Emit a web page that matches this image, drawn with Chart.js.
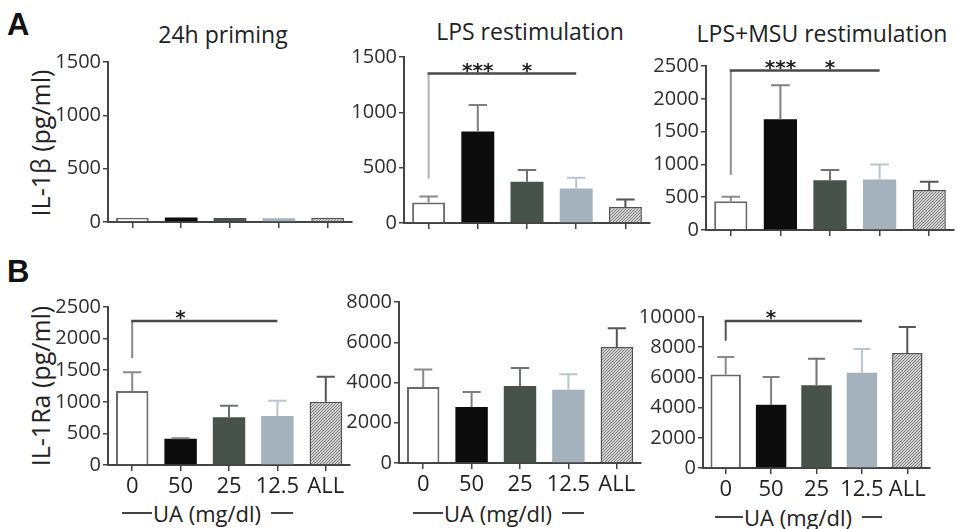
<!DOCTYPE html>
<html>
<head>
<meta charset="utf-8">
<script src="https://cdn.jsdelivr.net/npm/chart.js@4.4.0/dist/chart.umd.min.js"></script>
<style>
  body { margin: 0; background: #fff; }
  #fig { position: relative; width: 957px; height: 529px; overflow: hidden;
         font-family: 'Open Sans', sans-serif; color: #222; }
  #fig canvas { position: absolute; }
  .txt { position: absolute; white-space: nowrap; line-height: 1; }
  .letter { font-family: 'Liberation Sans', Arial, sans-serif; font-weight: bold; font-size: 31px; color: #111; }
  .title { font-size: 23px; transform: translate(-50%, -50%); }
  .ytitle { font-size: 25px; transform: translate(-50%, -50%) rotate(-90deg); }
  .ua { display: flex; align-items: center; font-size: 22px; transform: translateY(-50%); }
  .ua .dash { display: inline-block; height: 2px; background: #444; }
</style>
</head>
<body>
<div id="fig">
  <div class="txt letter" style="left:7px; top:9px;">A</div>
  <div class="txt letter" style="left:7px; top:256px;">B</div>

  <div class="txt title" style="left:223px; top:34px;">24h priming</div>
  <div class="txt title" style="left:530px; top:31px;">LPS restimulation</div>
  <div class="txt title" style="left:822px; top:33px;">LPS+MSU restimulation</div>

  <div class="txt ytitle" style="left:40px; top:143px;">IL-1β (pg/ml)</div>
  <div class="txt ytitle" style="left:40px; top:386px;">IL-1Ra (pg/ml)</div>

  <div class="txt ua" style="left:122px; top:513px;"><span class="dash" style="width:30px"></span><span style="margin-left:1px">UA (mg/dl)</span><span class="dash" style="width:22px; margin-left:10px"></span></div>
  <div class="txt ua" style="left:413px; top:513px;"><span class="dash" style="width:30px"></span><span style="margin-left:1px">UA (mg/dl)</span><span class="dash" style="width:22px; margin-left:10px"></span></div>
  <div class="txt ua" style="left:715px; top:517px;"><span class="dash" style="width:28px"></span><span style="margin-left:1px">UA (mg/dl)</span><span class="dash" style="width:20px; margin-left:10px"></span></div>
</div>

<script>
// Uric acid pre-treatment groups (x-axis tick labels)
const categories = ['0', '50', '25', '12.5', 'ALL'];

// IL-1β (pg/ml): mean and SEM per group
const primingMean   = [40, 42, 38, 36, 40];
const primingSem    = [0, 0, 0, 0, 0];
const lpsMean       = [185, 826, 372, 311, 145];
const lpsSem        = [55, 241, 106, 97, 67];
const lpsMsuMean    = [440, 1690, 760, 770, 610];
const lpsMsuSem     = [67, 516, 153, 229, 125];

// IL-1Ra (pg/ml): mean and SEM per group
const raPrimingMean = [1170, 415, 755, 775, 1000];
const raPrimingSem  = [297, 8, 183, 242, 397];
const raLpsMean     = [3780, 2780, 3830, 3640, 5760];
const raLpsSem      = [870, 750, 890, 770, 930];
const raMsuMean     = [6200, 4190, 5480, 6310, 7620];
const raMsuSem      = [1150, 1840, 1760, 1570, 1720];

// y-axis ranges [max, step]
const axisLpsIl1b    = [1500, 500];
const axisMsuIl1b    = [2500, 500];
const axisPrimingRa  = [2500, 500];
const axisLpsRa      = [8000, 2000];
const axisMsuRa      = [10000, 2000];

// significance brackets: [first group, last group, bracket level, drop level]
const lpsBracket     = [0, 3, 1350, 400];
const lpsStars       = ['', '***', '*', '', ''];
const msuBracket     = [0, 3, 2430, 840];
const msuStars       = ['', '***', '*', '', ''];
const raPrimBracket  = [0, 3, 2280, 1690];
const raPrimStars    = ['', '*', '', '', ''];
const raMsuBracket   = [0, 3, 9730, 8430];
const raMsuStars     = ['', '*', '', '', ''];

Chart.defaults.font.family = "'Open Sans', sans-serif";

// fine diagonal hatch used for the ALL group
function hatchPattern() {
  const c = document.createElement('canvas');
  c.width = 3; c.height = 3;
  const g = c.getContext('2d');
  g.fillStyle = '#d2d2d2';
  g.fillRect(0, 0, 3, 3);
  g.strokeStyle = '#707070';
  g.lineWidth = 0.9;
  g.beginPath();
  g.moveTo(0, 3); g.lineTo(3, 0);
  g.moveTo(-1, 1); g.lineTo(1, -1);
  g.moveTo(2, 4); g.lineTo(4, 2);
  g.stroke();
  return g.createPattern(c, 'repeat');
}
const hatch = hatchPattern();

const barFill   = ['#ffffff', '#0b0c0b', '#46524a', '#a3b2bd', hatch];
const barBorder = ['#6a6a6a', '#0b0c0b', '#46524a', '#a3b2bd', '#505050'];
const barBorderW = [2, 0, 0, 0, 1.5];
const errColor  = ['#8a8a8a', '#808080', '#6e756f', '#b9c6cf', '#555555'];

// upper SEM whiskers
const errorBars = {
  id: 'errorBars',
  afterDatasetsDraw(chart, args, opts) {
    if (!opts.sem) return;
    const meta = chart.getDatasetMeta(0);
    const vals = chart.data.datasets[0].data;
    const ys = chart.scales.y;
    const ctx = chart.ctx;
    ctx.save();
    ctx.lineWidth = 2;
    meta.data.forEach((bar, i) => {
      const e = opts.sem[i];
      if (!e) return;
      const base = ys.getPixelForValue(vals[i]);
      const top = ys.getPixelForValue(vals[i] + e);
      const half = bar.width * 0.28;
      ctx.strokeStyle = errColor[i];
      ctx.beginPath();
      ctx.moveTo(bar.x, base);
      ctx.lineTo(bar.x, top);
      ctx.moveTo(bar.x - half, top);
      ctx.lineTo(bar.x + half, top);
      ctx.stroke();
    });
    ctx.restore();
  }
};

// comparison bracket with significance stars
const bracket = {
  id: 'bracket',
  afterDatasetsDraw(chart, args, opts) {
    if (!opts.span) return;
    const [from, to, level, drop] = opts.span;
    const meta = chart.getDatasetMeta(0);
    const ys = chart.scales.y;
    const ctx = chart.ctx;
    const x0 = meta.data[from].x, x1 = meta.data[to].x;
    const yl = ys.getPixelForValue(level);
    const yd = ys.getPixelForValue(drop);
    ctx.save();
    ctx.strokeStyle = opts.dropColor;
    ctx.lineWidth = 2;
    ctx.beginPath();
    ctx.moveTo(x0, yl);
    ctx.lineTo(x0, yd);
    ctx.stroke();
    ctx.strokeStyle = '#4a4a4a';
    ctx.lineWidth = 2.5;
    ctx.beginPath();
    ctx.moveTo(x0 - 1, yl);
    ctx.lineTo(x1, yl);
    ctx.stroke();
    ctx.fillStyle = '#222';
    ctx.font = "bold 20px 'DejaVu Sans'";
    ctx.textAlign = 'center';
    ctx.textBaseline = 'alphabetic';
    opts.stars.forEach((s, i) => {
      if (s) ctx.fillText(s, meta.data[i].x, yl + 3);
    });
    ctx.restore();
  }
};

// area: [left, right, top, bottom] of the plot frame; box: [left, top, width, height] of the canvas
function panel(box, area, mean, sem, range, showX, sig) {
  const cv = document.createElement('canvas');
  cv.width = box[2]; cv.height = box[3];
  cv.style.left = box[0] + 'px'; cv.style.top = box[1] + 'px';
  document.getElementById('fig').appendChild(cv);
  const yW = area[0] - box[0];
  const padR = box[0] + box[2] - area[1];
  const padT = area[2] - box[1];
  const xH = box[1] + box[3] - area[3];
  new Chart(cv, {
    type: 'bar',
    data: {
      labels: categories,
      datasets: [{
        data: mean,
        backgroundColor: barFill,
        borderColor: barBorder,
        borderWidth: barBorderW,
        borderSkipped: 'start',
        barPercentage: 0.67,
        categoryPercentage: 1
      }]
    },
    options: {
      responsive: false,
      animation: false,
      devicePixelRatio: 1,
      layout: { padding: { left: 0, right: padR, top: padT, bottom: 0 } },
      plugins: {
        legend: { display: false },
        tooltip: { enabled: false },
        errorBars: { sem: sem },
        bracket: sig ? { span: sig.span, stars: sig.stars, dropColor: sig.dropColor } : { span: null }
      },
      scales: {
        x: {
          offset: true,
          grid: { drawOnChartArea: false, drawTicks: true, tickLength: 6, offset: false, color: '#444', lineWidth: 1.5 },
          border: { display: true, color: '#444', width: 2 },
          ticks: { color: showX ? '#222' : 'rgba(0,0,0,0)', font: { size: 22 }, padding: 3, maxRotation: 0, autoSkip: false },
          afterFit(s) { s.height = xH; }
        },
        y: {
          min: 0, max: range[0],
          ticks: { stepSize: range[1], color: '#2e2e2e', font: { size: 20 }, padding: 2,
                   callback: (v) => String(v) },
          grid: { drawOnChartArea: false, drawTicks: true, tickLength: 5, color: '#444', lineWidth: 1.5 },
          border: { display: true, color: '#444', width: 2 },
          afterFit(s) { s.width = yW; }
        }
      }
    },
    plugins: [errorBars, bracket]
  });
}

// IL-1β row
panel([0, 0, 360, 250],   [108, 352, 62, 222],  primingMean, primingSem, axisLpsIl1b, false, null);
panel([340, 0, 320, 250], [404, 650, 57, 223],  lpsMean, lpsSem, axisLpsIl1b, false,
      { span: lpsBracket, stars: lpsStars, dropColor: '#b4b4b4' });
panel([630, 0, 327, 250], [706, 954, 66, 230],  lpsMsuMean, lpsMsuSem, axisMsuIl1b, false,
      { span: msuBracket, stars: msuStars, dropColor: '#8f8f8f' });

// IL-1Ra row
panel([0, 250, 360, 279],   [108, 350, 307, 465], raPrimingMean, raPrimingSem, axisPrimingRa, true,
      { span: raPrimBracket, stars: raPrimStars, dropColor: '#8a8a8a' });
panel([340, 250, 320, 279], [399, 641, 302, 463], raLpsMean, raLpsSem, axisLpsRa, true, null);
panel([630, 250, 327, 279], [703, 930, 317, 468], raMsuMean, raMsuSem, axisMsuRa, true,
      { span: raMsuBracket, stars: raMsuStars, dropColor: '#555555' });
</script>
</body>
</html>
